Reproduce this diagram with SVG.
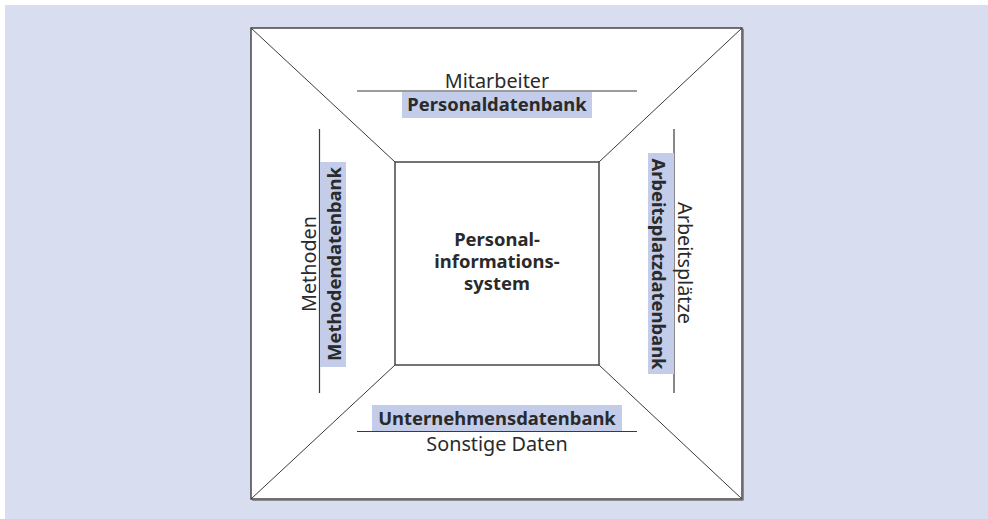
<svg xmlns="http://www.w3.org/2000/svg" width="988" height="519" viewBox="0 0 988 519">
  <style>
    .frame { fill: #ffffff; stroke: #3a3a3a; stroke-width: 1.4; }
    .diag { stroke: #3a3a3a; stroke-width: 1; fill: none; }
    .rule { stroke: #3a3a3a; stroke-width: 1.2; fill: none; }
    .hl { fill: #c3cde9; }
    .lbl { font-family: "Noto Sans", "Open Sans", sans-serif; font-size: 19.8px; fill: #2a2a2a; text-anchor: middle; }
    .db { font-family: "Noto Sans", "Open Sans", sans-serif; font-size: 18.4px; font-weight: bold; fill: #2a2a2a; text-anchor: middle; }
  </style>
  <rect x="0" y="0" width="988" height="519" fill="#ffffff"/>
  <rect x="5" y="5" width="983" height="514" fill="#d8def0"/>

  <!-- outer frame -->
  <g id="frame">
    <rect class="frame" x="251" y="28" width="491" height="471"/>
    <path d="M251.5 499.5 H742.5 V28" stroke="#777" stroke-width="1" fill="none" transform="translate(0.8,0.8)"/>
  </g>

  <!-- corner connectors -->
  <g id="connectors">
    <line class="diag" x1="251" y1="28" x2="395" y2="162"/>
    <line class="diag" x1="742" y1="28" x2="599" y2="162"/>
    <line class="diag" x1="251" y1="499" x2="395" y2="365"/>
    <line class="diag" x1="742" y1="499" x2="599" y2="365"/>
  </g>

  <!-- central system -->
  <g id="pis">
    <rect class="frame" x="395" y="162" width="204" height="203"/>
    <text class="db" x="497" y="246">Personal-</text>
    <text class="db" x="497" y="268">informations-</text>
    <text class="db" x="497" y="290">system</text>
  </g>

  <!-- top: staff -->
  <g id="personal">
    <line class="rule" x1="357" y1="91" x2="637" y2="91"/>
    <text class="lbl" x="497" y="88">Mitarbeiter</text>
    <rect class="hl" x="402" y="92" width="190" height="26"/>
    <text class="db" x="497" y="111">Personaldatenbank</text>
  </g>

  <!-- bottom: other data -->
  <g id="unternehmen">
    <rect class="hl" x="372" y="405" width="250" height="26"/>
    <text class="db" x="497" y="425">Unternehmensdatenbank</text>
    <line class="rule" x1="357" y1="431.5" x2="637" y2="431.5"/>
    <text class="lbl" x="497" y="451">Sonstige Daten</text>
  </g>

  <!-- left: methods -->
  <g id="methoden">
    <line class="rule" x1="319.5" y1="129" x2="319.5" y2="393"/>
    <rect class="hl" x="320" y="162" width="26" height="205"/>
    <text class="db" transform="translate(340.5,264) rotate(-90)">Methodendatenbank</text>
    <text class="lbl" transform="translate(315.5,264) rotate(-90)">Methoden</text>
  </g>

  <!-- right: workplaces -->
  <g id="arbeitsplatz">
    <line class="rule" x1="674" y1="129" x2="674" y2="393"/>
    <rect class="hl" x="648" y="153" width="26" height="221"/>
    <text class="db" transform="translate(652,264) rotate(90)">Arbeitsplatzdatenbank</text>
    <text class="lbl" transform="translate(677.5,263) rotate(90)">Arbeitsplätze</text>
  </g>
</svg>
